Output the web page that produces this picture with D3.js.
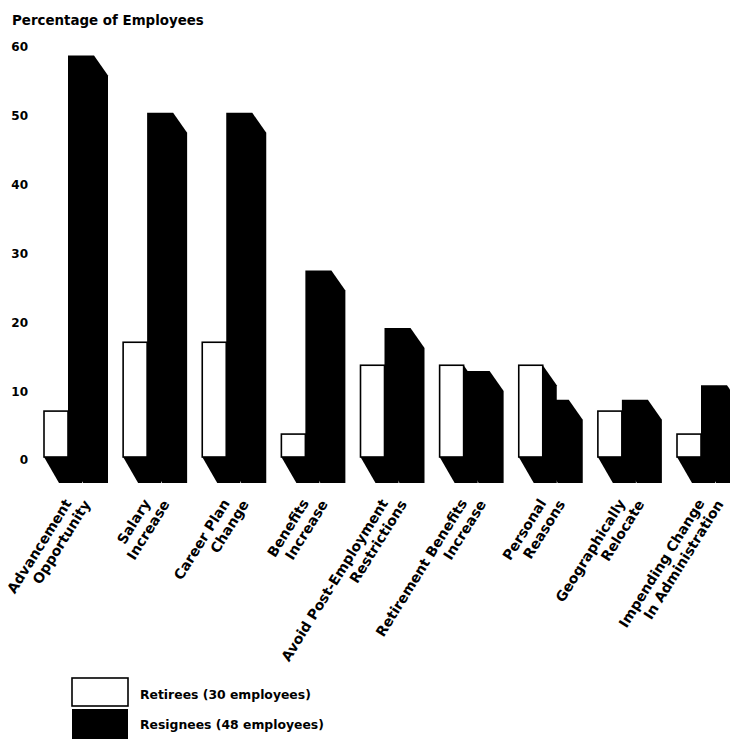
<!DOCTYPE html>
<html>
<head>
<meta charset="utf-8">
<script src="https://cdn.jsdelivr.net/npm/d3@7"></script>
<style>
  html, body { margin: 0; padding: 0; background: #fff; }
  svg text { font-family: "DejaVu Sans", "Liberation Sans", Arial, sans-serif; font-weight: bold; fill: #000; }
</style>
</head>
<body>
<svg id="chart" width="730" height="739"></svg>
<script>
// Reasons for leaving, two-line category labels
const categories = [
  ["Advancement", "Opportunity"],
  ["Salary", "Increase"],
  ["Career Plan", "Change"],
  ["Benefits", "Increase"],
  ["Avoid Post-Employment", "Restrictions"],
  ["Retirement Benefits", "Increase"],
  ["Personal", "Reasons"],
  ["Geographically", "Relocate"],
  ["Impending Change", "In Administration"]
];
// Percentage of each group citing the reason
const retirees  = [6.67, 16.67, 16.67, 3.33, 13.33, 13.33, 13.33, 6.67, 3.33];
const resignees = [58.33, 50, 50, 27.08, 18.75, 12.5, 8.33, 8.33, 10.42];
const yTicks = [0, 10, 20, 30, 40, 50, 60];
const legendLabels = ["Retirees (30 employees)", "Resignees (48 employees)"];

const svg = d3.select("#chart");

const keys = categories.map(c => c.join(" "));
const x = d3.scaleBand().domain(keys).range([44, 44 + 79.125 * keys.length]).padding(0);
const y = d3.scaleLinear().domain([0, 60]).range([457, 44]);

const wW = 24, wB = 26;          // front-face widths
const dX = 14, dY = 20;          // depth offset of the extrusion
const floorY = y(0) + 26;        // bottom of the extruded base
const baseDX = 15;

// Extruded bar: front rectangle plus its depth, as one polygon
function solid(x0, w, v) {
  const yT = y(v), y0 = y(0);
  return [
    [x0, yT], [x0 + w, yT], [x0 + w + dX, yT + dY], [x0 + w + dX, floorY],
    [x0 + baseDX, floorY], [x0, y0]
  ];
}
const line = d3.line();

// Title
svg.append("text").attr("x", 12).attr("y", 25).style("font-size", "13.4px")
  .text("Percentage of Employees");

// Y axis: labels only
const yAxis = svg.append("g").attr("transform", "translate(28,3)")
  .call(d3.axisLeft(y).tickValues(yTicks).tickSize(0).tickPadding(0).tickFormat(d3.format("d")));
yAxis.select(".domain").remove();
yAxis.selectAll("text").style("font-size", "12px")
  .style("font-family", "'DejaVu Sans', 'Liberation Sans', Arial, sans-serif").style("font-weight", "bold");

const groups = svg.append("g").selectAll("g").data(keys).join("g");

groups.each(function (k, i) {
  const g = d3.select(this);
  const gx = x(k);
  // retiree bar: black depth, white face
  g.append("path").attr("d", line(solid(gx, wW, retirees[i])) + "Z").attr("fill", "#000");
  g.append("rect").attr("x", gx).attr("y", y(retirees[i]))
    .attr("width", wW).attr("height", y(0) - y(retirees[i]))
    .attr("fill", "#fff").attr("stroke", "#000").attr("stroke-width", 1.6);
  // resignee bar: solid black
  g.append("path").attr("d", line(solid(gx + wW, wB, resignees[i])) + "Z").attr("fill", "#000");

  // rotated two-line category label
  const ax = gx + 28, ay = 503;
  const lines = categories[i];
  lines.forEach((t, j) => {
    const px = ax + j * 19, py = ay + j * 1;
    g.append("text")
      .attr("transform", `translate(${px},${py}) rotate(-58)`)
      .attr("text-anchor", "end")
      .style("font-size", "14px")
      .text(t);
  });
});

// Legend
const legend = svg.append("g");
legend.append("rect").attr("x", 72).attr("y", 678).attr("width", 56).attr("height", 28)
  .attr("fill", "#fff").attr("stroke", "#000").attr("stroke-width", 1.6);
legend.append("rect").attr("x", 72).attr("y", 709).attr("width", 56).attr("height", 30)
  .attr("fill", "#000");
legend.selectAll("text.lg").data(legendLabels).join("text").attr("class", "lg")
  .attr("x", 140).attr("y", (d, i) => 699 + i * 30)
  .style("font-size", "12.4px").text(d => d);
</script>
</body>
</html>
